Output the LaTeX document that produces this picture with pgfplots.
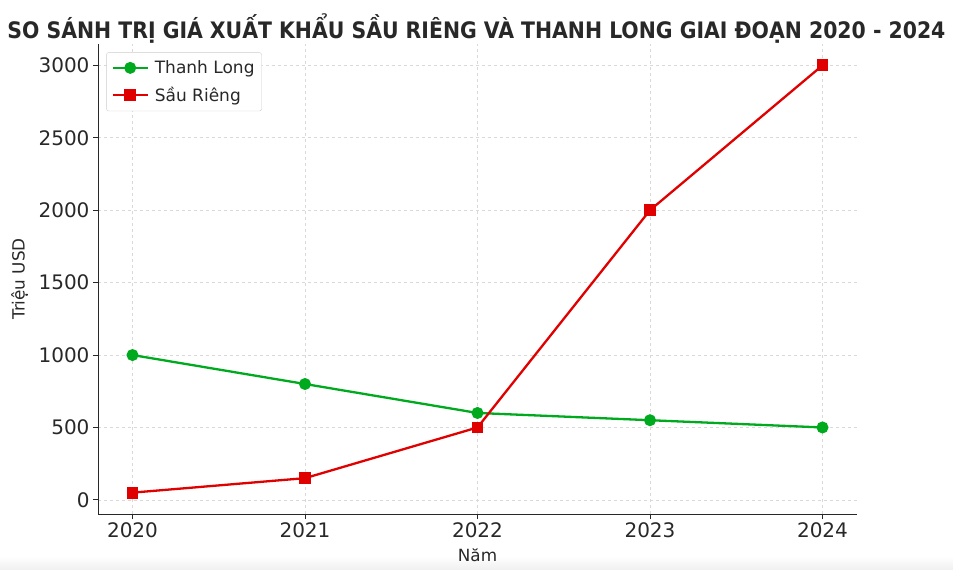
\documentclass[border=0pt]{standalone}
\usepackage{fontspec}
\setmainfont{DejaVu Sans}
\newfontfamily\titlefont{DejaVu Sans Condensed}
\usepackage{pgfplots}
\pgfplotsset{compat=1.18}
\definecolor{tlgreen}{RGB}{0,170,30}
\definecolor{srred}{RGB}{225,0,0}
\definecolor{txt}{RGB}{40,40,40}
\begin{document}
\begin{tikzpicture}[x=1pt,y=1pt]
\path (0,0) rectangle (953,570);
\shade[top color=white,bottom color=black!6] (0,0) rectangle (953,14);
\node[anchor=center,font=\titlefont\bfseries\fontsize{22.7}{26}\selectfont,text=txt] at (476.5,541) {SO SÁNH TRỊ GIÁ XUẤT KHẨU SẦU RIÊNG VÀ THANH LONG GIAI ĐOẠN 2020 - 2024};
\begin{axis}[
  at={(98pt,56pt)}, anchor=south west,
  scale only axis, width=759pt, height=470pt,
  xmin=2019.8, xmax=2024.2, ymin=-97.5, ymax=3147.5,
  axis x line*=bottom, axis y line*=left,
  axis line style={txt, line width=1pt},
  xtick={2020,2021,2022,2023,2024},
  ytick={0,500,1000,1500,2000,2500,3000},
  xticklabel style={/pgf/number format/1000 sep={}},
  /pgf/number format/assume math mode=true,
  yticklabel style={/pgf/number format/1000 sep={}},
  tick label style={font=\fontsize{20}{24}\selectfont, text=txt},
  tick align=outside, major tick length=5pt,
  tick style={txt, line width=0.9pt},
  grid=major,
  major grid style={dashed, black!15, line width=0.6pt},
  xlabel={Năm}, ylabel={Triệu USD},
  label style={font=\fontsize{16.8}{20}\selectfont, text=txt},
  xlabel style={yshift=-4pt},
  ylabel style={yshift=4pt},
  legend style={at={(0.011,0.982)}, anchor=north west, draw=black!20, rounded corners=2pt,
    font=\fontsize{17}{20}\selectfont, text=txt, row sep=8pt, column sep=4pt, inner xsep=5pt, inner ysep=6pt},
  legend cell align=left,
  legend image code/.code={\draw[mark repeat=2,mark phase=2] plot coordinates {(0pt,0pt) (17.5pt,0pt) (35pt,0pt)};},
]
\addplot[tlgreen, line width=2.3pt, mark=*, mark size=4.8pt, mark options={solid}] coordinates {
  (2020,1000) (2021,800) (2022,600) (2023,550) (2024,500)};
\addlegendentry{Thanh Long}
\addplot[srred, line width=2.3pt, mark=square*, mark size=4.8pt] coordinates {
  (2020,50) (2021,150) (2022,500) (2023,2000) (2024,3000)};
\addlegendentry{Sầu Riêng}
\end{axis}
\end{tikzpicture}
\end{document}
